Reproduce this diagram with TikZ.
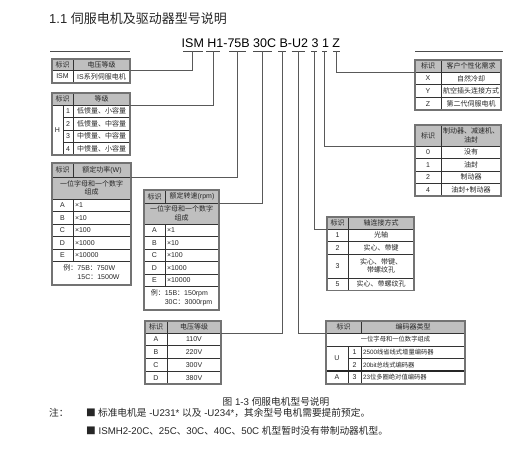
\documentclass[tikz,border=0pt]{standalone}
\usepackage{fontspec}
\setmainfont{Liberation Sans}
\newfontfamily\cjk{Noto Sans CJK SC}
\newcommand\mkcell[7]{\node[#6, minimum width={(#4-#2)*1pt}, minimum height={(#5-#3)*1pt}] (#1) at ({(#2+#4)/2},{(#3+#5)/2}) {#7};}
\newcommand\frm[4]{\draw[frame] (#1,#2) rectangle (#3,#4);}
\tikzset{
  tcell/.style={draw=black!80, line width=0.6pt, inner sep=0pt, font=\fontsize{7}{8.4}\selectfont, text=black!85, align=center},
  thead/.style={tcell, fill=gray!50},
  scell/.style={tcell, font=\fontsize{6.3}{7.5}\selectfont},
  frame/.style={draw=black!55, line width=1.1pt},
  conn/.style={draw=black!65, line width=0.7pt},
  uline/.style={draw=black!70, line width=0.7pt},
}
\begin{document}
\begin{tikzpicture}[x=1pt,y=-1pt]
\useasboundingbox (0,0) rectangle (508,452);
\fill[white] (0,0) rectangle (508,452);

% title
\node[anchor=west, inner sep=0pt, text=black!85] (title) at (49,18.5) {\fontsize{13}{15}\selectfont 1.1 {\cjk 伺服电机及驱动器型号说明}};

% model code
\node[anchor=base west, inner sep=0pt] (code) at (181.5,47.3) {\fontsize{12.5}{14}\selectfont ISM H1-75B 30C B-U2 3 1 Z};
\coordinate (uISM) at (192,51.5);
\coordinate (uH) at (213,51.5);
\coordinate (uP) at (237.5,51.5);
\coordinate (uS) at (262.5,51.5);
\coordinate (uB) at (282,51.5);
\coordinate (uU) at (298.5,51.5);
\coordinate (u3) at (314,51.5);
\coordinate (u1) at (324.5,51.5);
\coordinate (uZ) at (336,51.5);
\draw[uline] (183,51.5) -- (203,51.5);
\draw[uline] (206,51.5) -- (220,51.5);
\draw[uline] (229,51.5) -- (246,51.5);
\draw[uline] (253,51.5) -- (272,51.5);
\draw[uline] (278,51.5) -- (285.5,51.5);
\draw[uline] (291.5,51.5) -- (305,51.5);
\draw[uline] (311,51.5) -- (317,51.5);
\draw[uline] (322,51.5) -- (327,51.5);
\draw[uline] (333,51.5) -- (339.5,51.5);
\draw[uline] (50,51.5) -- (130,51.5);
\draw[uline] (415,51.5) -- (503,51.5);

% ISM table
\mkcell{ismh1}{52}{59}{73}{70}{thead}{\cjk 标识}
\mkcell{ismh2}{73}{59}{130}{70}{thead}{\cjk 电压等级}
\mkcell{isma}{52}{70}{73}{83}{tcell}{ISM}
\mkcell{ismb}{73}{70}{130}{83}{tcell}{IS{\cjk 系列伺服电机}}
\frm{52}{59}{130}{83}

% H table
\mkcell{hh1}{52}{93}{73}{105}{thead}{\cjk 标识}
\mkcell{hh2}{73}{93}{130}{105}{thead}{\cjk 等级}
\mkcell{hH}{52}{105}{63}{155}{tcell}{H}
\mkcell{hn1}{63}{105}{73}{117.5}{tcell}{1}
\mkcell{ht1}{73}{105}{130}{117.5}{tcell}{\cjk 低惯量、小容量}
\mkcell{hn2}{63}{117.5}{73}{130}{tcell}{2}
\mkcell{ht2}{73}{117.5}{130}{130}{tcell}{\cjk 低惯量、中容量}
\mkcell{hn3}{63}{130}{73}{142.5}{tcell}{3}
\mkcell{ht3}{73}{130}{130}{142.5}{tcell}{\cjk 中惯量、中容量}
\mkcell{hn4}{63}{142.5}{73}{155}{tcell}{4}
\mkcell{ht4}{73}{142.5}{130}{155}{tcell}{\cjk 中惯量、小容量}
\frm{52}{93}{130}{155}

% power table
\mkcell{pwh1}{52}{163}{73}{177}{thead}{\cjk 标识}
\mkcell{pwh2}{73}{163}{131}{177}{thead}{{\cjk 额定功率}(W)}
\mkcell{pwsub}{52}{177}{131}{199}{thead}{{\cjk 一位字母和一个数字}\\{\cjk 组成}}
\mkcell{pwa}{52}{199}{73}{211.5}{tcell}{A}
\mkcell{pwax}{73}{199}{131}{211.5}{tcell}{}
\mkcell{pwb}{52}{211.5}{73}{224}{tcell}{B}
\mkcell{pwbx}{73}{211.5}{131}{224}{tcell}{}
\mkcell{pwc}{52}{224}{73}{236.5}{tcell}{C}
\mkcell{pwcx}{73}{224}{131}{236.5}{tcell}{}
\mkcell{pwd}{52}{236.5}{73}{249}{tcell}{D}
\mkcell{pwdx}{73}{236.5}{131}{249}{tcell}{}
\mkcell{pwe}{52}{249}{73}{261.5}{tcell}{E}
\mkcell{pwex}{73}{249}{131}{261.5}{tcell}{}
\mkcell{pwexm}{52}{261.5}{131}{285}{tcell}{\begin{tabular}{@{}r@{}l@{}}{\cjk 例：}&75B{\cjk ：}750W\\&15C{\cjk ：}1500W\end{tabular}}
\frm{52}{163}{131}{285}
\node[tcell, draw=none, anchor=west] (pwat) at ([xshift=2pt]pwax.west) {×1};
\node[tcell, draw=none, anchor=west] (pwbt) at ([xshift=2pt]pwbx.west) {×10};
\node[tcell, draw=none, anchor=west] (pwct) at ([xshift=2pt]pwcx.west) {×100};
\node[tcell, draw=none, anchor=west] (pwdt) at ([xshift=2pt]pwdx.west) {×1000};
\node[tcell, draw=none, anchor=west] (pwet) at ([xshift=2pt]pwex.west) {×10000};

% speed table
\mkcell{sph1}{144}{190}{165}{203}{thead}{\cjk 标识}
\mkcell{sph2}{165}{190}{219}{203}{thead}{{\cjk 额定转速}(rpm)}
\mkcell{spsub}{144}{203}{219}{224}{thead}{{\cjk 一位字母和一个数字}\\{\cjk 组成}}
\mkcell{spa}{144}{224}{165}{236.5}{tcell}{A}
\mkcell{spax}{165}{224}{219}{236.5}{tcell}{}
\mkcell{spb}{144}{236.5}{165}{249}{tcell}{B}
\mkcell{spbx}{165}{236.5}{219}{249}{tcell}{}
\mkcell{spc}{144}{249}{165}{261.5}{tcell}{C}
\mkcell{spcx}{165}{249}{219}{261.5}{tcell}{}
\mkcell{spd}{144}{261.5}{165}{274}{tcell}{D}
\mkcell{spdx}{165}{261.5}{219}{274}{tcell}{}
\mkcell{spe}{144}{274}{165}{286.5}{tcell}{E}
\mkcell{spex}{165}{274}{219}{286.5}{tcell}{}
\mkcell{spexm}{144}{286.5}{219}{310}{tcell}{\begin{tabular}{@{}r@{}l@{}}{\cjk 例：}&15B{\cjk ：}150rpm\\&30C{\cjk ：}3000rpm\end{tabular}}
\frm{144}{190}{219}{310}
\node[tcell, draw=none, anchor=west] (spat) at ([xshift=2pt]spax.west) {×1};
\node[tcell, draw=none, anchor=west] (spbt) at ([xshift=2pt]spbx.west) {×10};
\node[tcell, draw=none, anchor=west] (spct) at ([xshift=2pt]spcx.west) {×100};
\node[tcell, draw=none, anchor=west] (spdt) at ([xshift=2pt]spdx.west) {×1000};
\node[tcell, draw=none, anchor=west] (spet) at ([xshift=2pt]spex.west) {×10000};

% voltage table
\mkcell{vh1}{145}{321}{167}{333}{thead}{\cjk 标识}
\mkcell{vh2}{167}{321}{221}{333}{thead}{\cjk 电压等级}
\mkcell{va}{145}{333}{167}{345.75}{tcell}{A}
\mkcell{vav}{167}{333}{221}{345.75}{tcell}{110V}
\mkcell{vb}{145}{345.75}{167}{358.5}{tcell}{B}
\mkcell{vbv}{167}{345.75}{221}{358.5}{tcell}{220V}
\mkcell{vc}{145}{358.5}{167}{371.25}{tcell}{C}
\mkcell{vcv}{167}{358.5}{221}{371.25}{tcell}{300V}
\mkcell{vd}{145}{371.25}{167}{384}{tcell}{D}
\mkcell{vdv}{167}{371.25}{221}{384}{tcell}{380V}
\frm{145}{321}{221}{384}

% encoder table
\mkcell{enh1}{326}{321}{361}{333}{thead}{\cjk 标识}
\mkcell{enh2}{361}{321}{465}{333}{thead}{\cjk 编码器类型}
\mkcell{ensub}{326}{333}{465}{346}{scell}{\cjk 一位字母和一位数字组成}
\mkcell{enU}{326}{346}{348}{371}{tcell}{U}
\mkcell{enA}{326}{371}{348}{384}{tcell}{A}
\mkcell{en1}{348}{346}{361}{358.5}{tcell}{1}
\mkcell{en2}{348}{358.5}{361}{371}{tcell}{2}
\mkcell{en3}{348}{371}{361}{384}{tcell}{3}
\mkcell{en1t}{361}{346}{465}{358.5}{tcell}{}
\mkcell{en2t}{361}{358.5}{465}{371}{tcell}{}
\mkcell{en3t}{361}{371}{465}{384}{tcell}{}
\node[scell, draw=none, anchor=west] (en1x) at ([xshift=2pt]en1t.west) {2500{\cjk 线省线式增量编码器}};
\node[scell, draw=none, anchor=west] (en2x) at ([xshift=2pt]en2t.west) {20bit{\cjk 总线式编码器}};
\node[scell, draw=none, anchor=west] (en3x) at ([xshift=2pt]en3t.west) {23{\cjk 位多圈绝对值编码器}};
\draw[black!85, line width=1.1pt] (326,371) -- (465,371);
\frm{326}{321}{465}{384}

% shaft table
\mkcell{shh1}{327}{217}{348}{229}{thead}{\cjk 标识}
\mkcell{shh2}{348}{217}{414}{229}{thead}{\cjk 轴连接方式}
\mkcell{sh1}{327}{229}{348}{241.5}{tcell}{1}
\mkcell{sh1t}{348}{229}{414}{241.5}{tcell}{\cjk 光轴}
\mkcell{sh2}{327}{241.5}{348}{254}{tcell}{2}
\mkcell{sh2t}{348}{241.5}{414}{254}{tcell}{\cjk 实心、带键}
\mkcell{sh3}{327}{254}{348}{278}{tcell}{3}
\mkcell{sh3t}{348}{254}{414}{278}{tcell}{{\cjk 实心、带键、}\\{\cjk 带螺纹孔}}
\mkcell{sh5}{327}{278}{348}{290.5}{tcell}{5}
\mkcell{sh5t}{348}{278}{414}{290.5}{tcell}{\cjk 实心、带螺纹孔}
\frm{327}{217}{414}{290.5}

% customer table
\mkcell{cuh1}{415}{60}{441}{72}{thead}{\cjk 标识}
\mkcell{cuh2}{441}{60}{501}{72}{thead}{\cjk 客户个性化需求}
\mkcell{cux}{415}{72}{441}{84.67}{tcell}{X}
\mkcell{cuxt}{441}{72}{501}{84.67}{tcell}{\cjk 自然冷却}
\mkcell{cuy}{415}{84.67}{441}{97.33}{tcell}{Y}
\mkcell{cuyt}{441}{84.67}{501}{97.33}{tcell}{\cjk 航空插头连接方式}
\mkcell{cuz}{415}{97.33}{441}{110}{tcell}{Z}
\mkcell{cuzt}{441}{97.33}{501}{110}{tcell}{\cjk 第二代伺服电机}
\frm{415}{60}{501}{110}

% brake table
\mkcell{brh1}{415}{125}{441}{146}{thead}{\cjk 标识}
\mkcell{brh2}{441}{125}{501}{146}{thead}{{\cjk 制动器、减速机、}\\{\cjk 油封}}
\mkcell{br0}{415}{146}{441}{158.5}{tcell}{0}
\mkcell{br0t}{441}{146}{501}{158.5}{tcell}{\cjk 没有}
\mkcell{br1}{415}{158.5}{441}{171}{tcell}{1}
\mkcell{br1t}{441}{158.5}{501}{171}{tcell}{\cjk 油封}
\mkcell{br2}{415}{171}{441}{183.5}{tcell}{2}
\mkcell{br2t}{441}{171}{501}{183.5}{tcell}{\cjk 制动器}
\mkcell{br4}{415}{183.5}{441}{196}{tcell}{4}
\mkcell{br4t}{441}{183.5}{501}{196}{tcell}{{\cjk 油封}+{\cjk 制动器}}
\frm{415}{125}{501}{196}

% connectors
\draw[conn] (uISM) |- (ismh2.south east);
\draw[conn] (uH) |- (hh2.south east);
\draw[conn] (uP) |- (pwh2.south east);
\draw[conn] (uS) |- (sph2.south east);
\draw[conn] (uB) |- (vh2.south east);
\draw[conn] (uU) |- (enh1.south west);
\draw[conn] (u3) |- (shh1.south west);
\draw[conn] (u1) |- (brh1.south west);
\draw[conn] (uZ) |- (cuh1.south west);

% caption and notes
\node[text=black!85, inner sep=0pt] (cap) at (276,402) {\fontsize{9.7}{11}\selectfont{\cjk 图} 1-3 {\cjk 伺服电机型号说明}};
\node[anchor=west, text=black!85, inner sep=0pt] (n0) at (49,413) {\fontsize{9.7}{11}\selectfont\cjk 注：};
\node[anchor=west, text=black!85, inner sep=0pt] (n1) at (86,413) {\fontsize{9.7}{11}\selectfont{\cjk ■ 标准电机是} -U231* {\cjk 以及} -U234*{\cjk ，其余型号电机需要提前预定。}};
\node[anchor=west, text=black!85, inner sep=0pt] (n2) at (86,431) {\fontsize{9.7}{11}\selectfont{\cjk ■} ISMH2-20C{\cjk 、}25C{\cjk 、}30C{\cjk 、}40C{\cjk 、}50C {\cjk 机型暂时没有带制动器机型。}};
\end{tikzpicture}
\end{document}
